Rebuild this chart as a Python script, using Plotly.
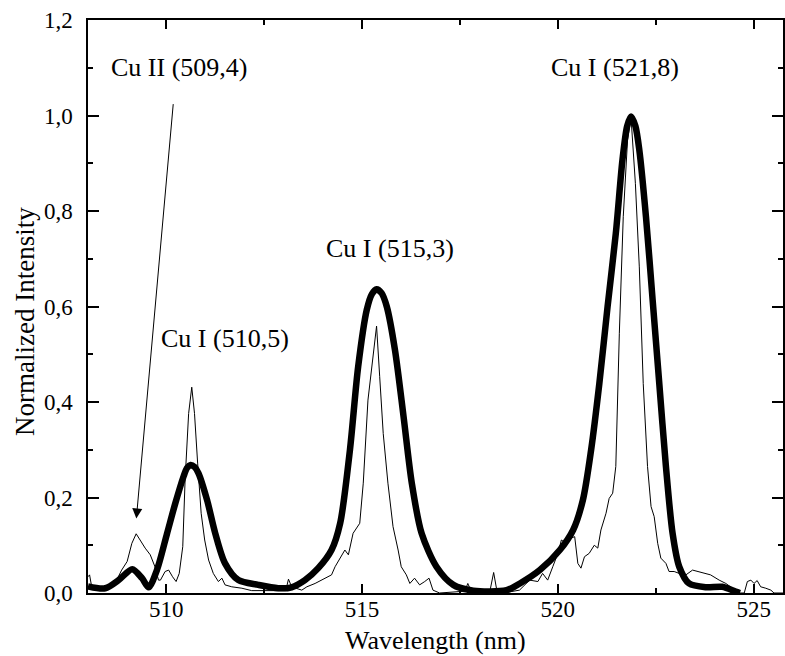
import plotly.graph_objects as go

# Thick (smoothed) profile
thick_x = [508.00, 508.44, 508.78, 509.13, 509.38, 509.55, 509.76, 510.02, 510.23, 510.44,
           510.53, 510.62, 510.72, 510.82, 511.04, 511.25, 511.50, 511.84, 512.35, 512.86,
           513.20, 513.54, 513.88, 514.22, 514.44, 514.69, 514.90, 515.12, 515.25, 515.37,
           515.50, 515.63, 515.84, 516.06, 516.27, 516.52, 516.90, 517.33, 517.84, 518.69,
           519.03, 519.54, 520.05, 520.39, 520.64, 520.85, 521.06, 521.27, 521.48, 521.65,
           521.77, 521.87, 521.98, 522.08, 522.25, 522.42, 522.59, 522.76, 522.93, 523.10,
           523.35, 523.78, 524.20, 524.54, 524.65]
thick_y = [0.014, 0.010, 0.027, 0.050, 0.031, 0.012, 0.048, 0.125, 0.188, 0.244,
           0.262, 0.268, 0.264, 0.251, 0.195, 0.125, 0.062, 0.027, 0.017, 0.010,
           0.012, 0.027, 0.052, 0.090, 0.146, 0.300, 0.474, 0.593, 0.626, 0.636,
           0.628, 0.600, 0.509, 0.369, 0.230, 0.125, 0.055, 0.017, 0.005, 0.006,
           0.020, 0.048, 0.090, 0.132, 0.195, 0.300, 0.439, 0.600, 0.753, 0.907,
           0.978, 0.998, 0.978, 0.928, 0.788, 0.614, 0.439, 0.265, 0.125, 0.055,
           0.020, 0.012, 0.013, 0.003, 0.000]

# Thin (measured) spectrum
thin_x = [508.00, 508.04, 508.09, 508.26, 508.51, 508.70, 508.86, 509.00, 509.12, 509.23,
          509.33, 509.46, 509.59, 509.71, 509.80, 509.85, 509.97, 510.06, 510.16, 510.25,
          510.33, 510.42, 510.48, 510.57, 510.65, 510.72, 510.80, 510.89, 510.98, 511.08,
          511.20, 511.33, 511.42, 511.50, 511.67, 511.93, 512.18, 512.69, 513.05, 513.12,
          513.20, 513.46, 513.59, 513.80, 513.97, 514.10, 514.22, 514.31, 514.44, 514.56,
          514.65, 514.77, 514.94, 515.03, 515.15, 515.26, 515.37, 515.45, 515.54, 515.66,
          515.79, 515.92, 516.00, 516.13, 516.22, 516.34, 516.47, 516.60, 516.71, 516.81,
          516.98, 517.49, 517.62, 517.70, 517.79, 518.17, 518.27, 518.36, 518.44, 518.68,
          519.02, 519.28, 519.49, 519.61, 519.74, 519.87, 520.00, 520.09, 520.21, 520.34,
          520.43, 520.51, 520.59, 520.68, 520.80, 520.93, 521.02, 521.10, 521.23, 521.31,
          521.40, 521.48, 521.57, 521.67, 521.78, 521.87, 521.98, 522.08, 522.18, 522.29,
          522.38, 522.46, 522.55, 522.63, 522.76, 522.84, 522.97, 523.10, 523.27, 523.44,
          523.56, 523.73, 523.90, 524.12, 524.29, 524.46, 524.63, 524.76, 524.84, 524.93,
          525.01, 525.09, 525.18, 525.31, 525.44, 525.52, 525.75]
thin_y = [0.034, 0.038, 0.015, 0.008, 0.008, 0.022, 0.048, 0.066, 0.104, 0.124,
          0.111, 0.094, 0.080, 0.055, 0.027, 0.027, 0.045, 0.048, 0.034, 0.024,
          0.041, 0.097, 0.237, 0.376, 0.431, 0.376, 0.272, 0.167, 0.111, 0.069,
          0.041, 0.024, 0.031, 0.017, 0.013, 0.010, 0.005, 0.005, 0.005, 0.029,
          0.013, 0.006, 0.013, 0.020, 0.027, 0.034, 0.038, 0.055, 0.072, 0.090,
          0.080, 0.125, 0.146, 0.230, 0.404, 0.488, 0.559, 0.453, 0.334, 0.230,
          0.139, 0.090, 0.055, 0.038, 0.020, 0.031, 0.017, 0.024, 0.031, 0.006,
          0.000, 0.003, 0.003, 0.020, 0.003, 0.000, 0.006, 0.043, 0.006, 0.001,
          0.006, 0.027, 0.024, 0.041, 0.027, 0.055, 0.083, 0.111, 0.104, 0.115,
          0.118, 0.062, 0.052, 0.076, 0.083, 0.100, 0.094, 0.132, 0.167, 0.198,
          0.209, 0.265, 0.544, 0.788, 0.949, 0.994, 0.858, 0.683, 0.439, 0.265,
          0.181, 0.160, 0.104, 0.073, 0.062, 0.045, 0.045, 0.041, 0.038, 0.048,
          0.045, 0.041, 0.038, 0.027, 0.020, 0.010, 0.000, 0.000, 0.024, 0.027,
          0.020, 0.026, 0.013, 0.010, 0.006, 0.000, 0.000]

# Peak labels
label_text = ["Cu II (509,4)", "Cu I (510,5)", "Cu I (515,3)", "Cu I (521,8)"]
label_x = [510.32, 511.50, 515.71, 521.47]
label_y = [1.10, 0.533, 0.722, 1.10]

# Arrow (Cu II line)
arrow_tip = (509.235, 0.156)
arrow_tail = (510.18, 1.027)

x_title = "Wavelength (nm)"
y_title = "Normalized Intensity"

FONT = "Liberation Serif, Times New Roman, serif"

fig = go.Figure()
fig.add_trace(go.Scatter(x=thin_x, y=thin_y, mode="lines",
                         line=dict(color="black", width=1), showlegend=False))
fig.add_trace(go.Scatter(x=thick_x, y=thick_y, mode="lines",
                         line=dict(color="black", width=6.5, shape="spline", smoothing=0.8),
                         showlegend=False))

for t, x, y in zip(label_text, label_x, label_y):
    fig.add_annotation(x=x, y=y, text=t, showarrow=False,
                       font=dict(family=FONT, size=26, color="black"))

fig.add_annotation(x=arrow_tip[0], y=arrow_tip[1], ax=arrow_tail[0], ay=arrow_tail[1],
                   axref="x", ayref="y", text="", showarrow=True,
                   arrowhead=2, arrowsize=2, arrowwidth=1, arrowcolor="black")

# Axis titles
fig.add_annotation(xref="paper", yref="paper", x=0.5, y=0, yshift=-47,
                   xanchor="center", yanchor="middle", text=x_title, showarrow=False,
                   font=dict(family=FONT, size=26, color="black"))
fig.add_annotation(xref="paper", yref="paper", x=0, xshift=-63, y=0.473,
                   xanchor="center", yanchor="middle", text=y_title, textangle=-90,
                   showarrow=False, font=dict(family=FONT, size=27, color="black"))

axis_common = dict(showline=True, linecolor="black", linewidth=1.5, mirror="ticks",
                   ticks="inside", tickcolor="black", tickwidth=1.5, showgrid=False,
                   zeroline=False, automargin=False,
                   tickfont=dict(family=FONT, size=23, color="black"))

fig.update_xaxes(range=[508, 525.75], dtick=5, tick0=510, ticklen=9, ticklabelstandoff=-5,
                 minor=dict(dtick=2.5, tick0=510, ticklen=5, ticks="inside", tickcolor="black", tickwidth=1.5),
                 **axis_common)
fig.update_yaxes(range=[0, 1.2], dtick=0.2, tickformat=".1f", ticklen=11, ticklabelstandoff=9,
                 minor=dict(dtick=0.1, ticklen=5, ticks="inside", tickcolor="black", tickwidth=1.5),
                 **axis_common)

fig.update_layout(width=785, height=656, margin=dict(l=88, r=2, t=20, b=63),
                  plot_bgcolor="white", paper_bgcolor="white", separators=",.",
                  font=dict(family=FONT, color="black"))

fig.write_html("out.html", config={"displayModeBar": False},
               post_script="document.body.style.margin='0';document.body.style.overflow='hidden';")
